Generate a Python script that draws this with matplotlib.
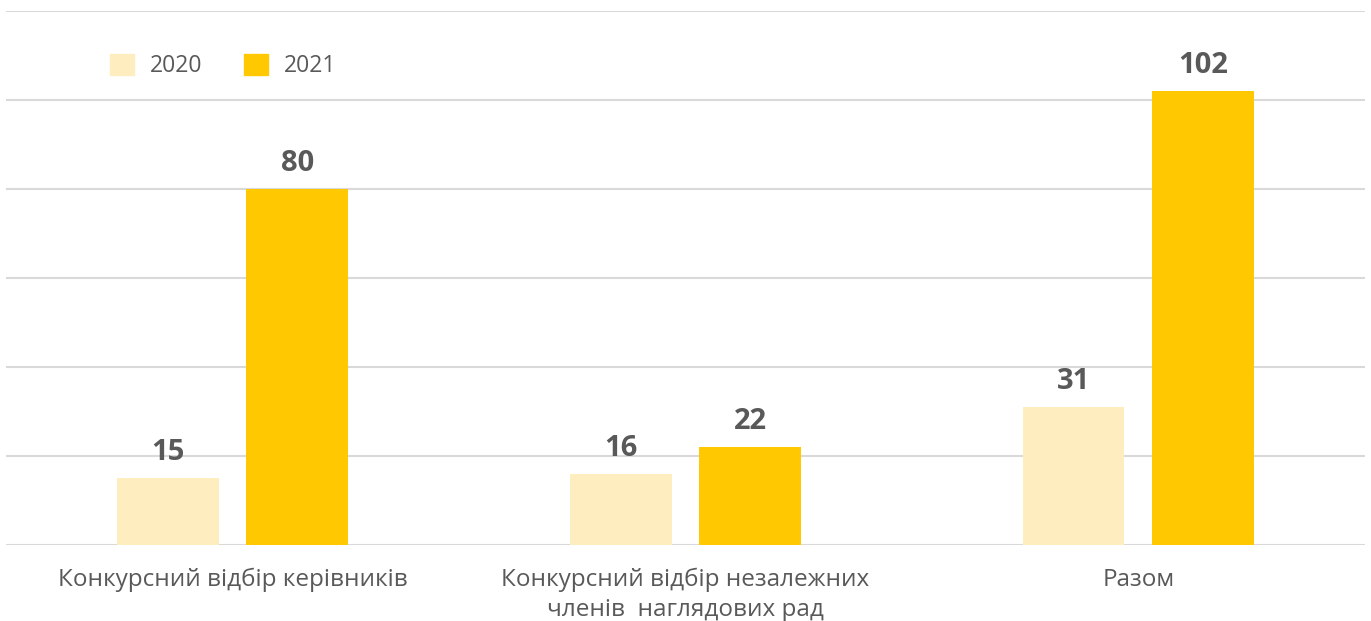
import numpy as np
import matplotlib.pyplot as plt
import matplotlib.patches as mpatches

# data
categories = ["Конкурсний відбір керівників",
              "Конкурсний відбір незалежних\nчленів  наглядових рад",
              "Разом"]
years = ["2020", "2021"]
values_2020 = [15, 16, 31]
values_2021 = [80, 22, 102]

# style
colors = {"2020": "#FEEDBE", "2021": "#FFC800"}
text_color = "#595959"
grid_color = "#D9D9D9"
plt.rcParams['font.family'] = ['Open Sans', 'DejaVu Sans']

fig = plt.figure(figsize=(13.71, 6.21), dpi=100)
ax = fig.add_axes([0.0044, 0.1224, 0.991, 0.8599])

x = np.arange(len(categories))
w = 0.225
off = 0.143
for vals, yr, sign in [(values_2020, "2020", -1), (values_2021, "2021", 1)]:
    bars = ax.bar(x + sign * off, vals, width=w, color=colors[yr], zorder=2)
    for b, v in zip(bars, vals):
        ax.annotate(str(v), (b.get_x() + b.get_width() / 2, v), xytext=(0, 8),
                    textcoords="offset points", ha="center", va="bottom",
                    fontsize=21, fontweight="bold", color=text_color)

ax.set_xlim(-0.5, 2.5)
ax.set_ylim(0, 120)
ax.set_yticks(np.arange(0, 121, 20))
ax.yaxis.grid(True, color=grid_color, linewidth=1.5, zorder=0)
ax.set_axisbelow(True)
ax.tick_params(left=False, labelleft=False, bottom=False)
for s in ax.spines.values():
    s.set_visible(False)
ax.axhline(0, color=grid_color, linewidth=2, zorder=1)

ax.set_xticks(x)
ax.set_xticklabels(categories, fontsize=17.5, color=text_color, linespacing=1.3)
ax.tick_params(axis='x', pad=13)

handles = [mpatches.Patch(color=colors[y], label=y) for y in years]
leg = fig.legend(handles=handles, loc="upper left", bbox_to_anchor=(0.065, 0.947),
                 ncol=2, frameon=False, fontsize=16.5, handlelength=1.05,
                 handleheight=1.05, handletextpad=0.7, columnspacing=1.8)
for t in leg.get_texts():
    t.set_color(text_color)

plt.savefig("out.png", dpi=100)
